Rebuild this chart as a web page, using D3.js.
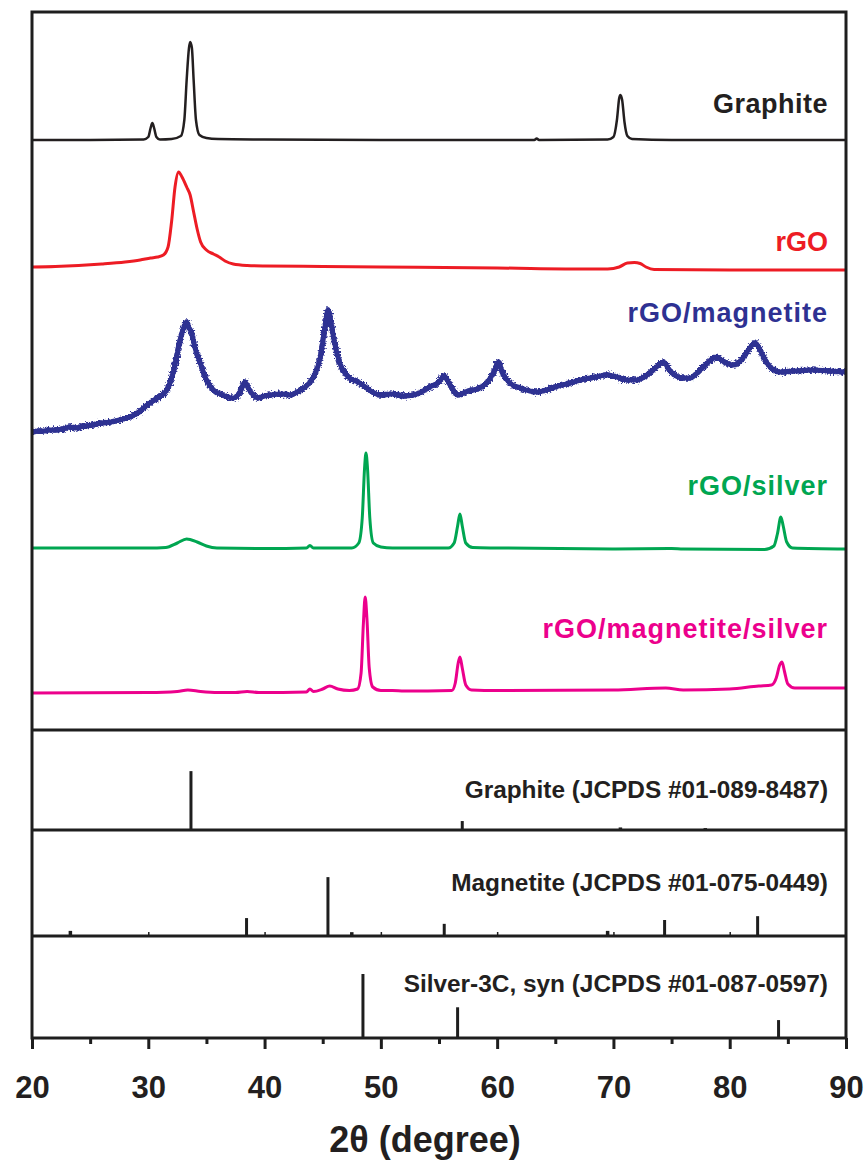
<!DOCTYPE html>
<html>
<head>
<meta charset="utf-8">
<script src="https://cdn.jsdelivr.net/npm/d3@7"></script>
<style>
  html, body { margin: 0; padding: 0; background: #fff; }
  svg { display: block; }
  text { font-family: "Liberation Sans", Arial, Helvetica, sans-serif; font-weight: bold; }
</style>
</head>
<body>
<svg id="chart" width="865" height="1165"></svg>
<script>
// ---- XRD patterns: [2θ (deg), intensity above each trace's own baseline, a.u.] ----
const graphite = [
  [20,0],[25,0],[29.6,0.5],[30.0,3],[30.2,12],[30.35,17],[30.5,12],[30.7,3],[31.0,0.5],
  [32.0,1],[32.8,4],[33.1,20],[33.3,60],[33.5,92],[33.6,98],[33.75,92],[33.9,60],[34.1,20],
  [34.4,5],[35,2],[36,1],[40,0.5],[50,0],[60,0],[63.2,0],[63.4,1.5],[63.6,0],[69.5,0.5],
  [70.0,3],[70.3,20],[70.5,42],[70.6,45],[70.75,40],[70.95,18],[71.2,4],[71.6,1],[75,0],[90,0]
];
const rGO = [
  [20,0],[22,0.5],[24,1.5],[26,3],[28,5],[29.3,7],[30.2,9],[30.8,10],[31.3,12],[31.7,20],
  [32.0,45],[32.3,80],[32.6,95],[32.9,90],[33.3,80],[33.6,72],[33.9,55],[34.2,38],[34.5,25],
  [35.0,17],[35.6,13],[36.1,10],[36.6,6],[37.3,3],[38.5,1.5],[40,1],[45,0.5],[50,0],[60,-1],
  [68,-2],[69.5,-2],[70.5,0],[71.2,4],[71.8,4.5],[72.3,3.5],[72.8,0],[73.5,-2.5],[80,-3],[90,-3]
];
const rGOMagnetite = [
  [20,0],[20.6,1],[21,1],[21.6,2],[22,2],[22.6,3],[23.3,5],[23.8,4],[24.5,6],[25.2,7],[26,9],
  [26.8,10],[27.5,12],[28.4,15],[29.2,20],[29.9,27],[30.8,34],[31.6,42],[32.2,62],[32.8,95],
  [33.1,106],[33.3,110],[33.5,104],[33.7,100],[34.0,85],[34.5,68],[35.0,52],[35.6,42],[36.4,37],
  [37.3,34],[37.9,40],[38.3,50],[38.7,42],[39.4,34],[40.0,36],[40.5,37],[41.5,38],[42.2,37],
  [42.8,40],[43.5,45],[44.2,55],[44.8,75],[45.2,105],[45.45,122],[45.7,110],[46.0,90],[46.5,68],
  [47.2,55],[48.2,49],[49.0,42],[49.9,37],[51,38],[52,36],[52.8,37],[53.5,40],[54.2,45],[55.0,50],
  [55.45,56],[55.9,48],[56.6,37],[57.5,41],[58.5,44],[59.3,52],[59.8,62],[60.1,70],[60.5,58],
  [61.1,49],[62.0,44],[63.4,40],[64.2,42],[65,45],[66.3,49],[67.5,53],[68.5,55],[69.4,57],
  [70.3,55],[71.2,52],[72,52],[73,58],[73.8,66],[74.3,70],[74.8,62],[75.4,56],[76,54],[76.6,54],
  [77.2,59],[77.8,66],[78.5,73],[78.9,75],[79.4,71],[80.3,67],[81,72],[81.6,82],[82.2,89],
  [82.7,80],[83.2,69],[84.3,60],[85.5,61],[87.1,62],[88.5,61],[90,60]
];
const rGOSilver = [
  [20,0],[30,0],[31.5,0.5],[32.5,5],[33.3,9],[34.2,6],[35.0,2],[35.9,0],[40,-0.5],[43.6,0],
  [43.9,2.5],[44.2,0],[47.5,0],[48.1,5],[48.4,30],[48.6,80],[48.72,95],[48.85,80],[49.05,30],
  [49.35,5],[50,1],[51,0],[55.8,0],[56.3,5],[56.6,22],[56.8,34],[57.0,22],[57.3,5],[57.9,0.5],
  [60,0],[70,-1],[75,-0.5],[76,-1],[83,-1.5],[83.8,2],[84.1,14],[84.4,31],[84.6,22],[84.9,6],
  [85.4,0],[90,-1]
];
const rGOMagnetiteSilver = [
  [20,0],[30,0.5],[32.5,1.5],[33.4,3],[34.5,1.5],[36,0.5],[37.5,0.5],[38.5,1.5],[39.5,0.5],
  [43.6,1],[43.9,4],[44.2,1.5],[45.0,4],[45.6,7],[46.3,4],[47.3,2.5],[48.0,4],[48.3,20],[48.5,70],
  [48.65,96],[48.8,75],[49.0,25],[49.3,6],[50,2.5],[51,2.5],[52,2],[56.1,2.5],[56.4,10],
  [56.65,30],[56.8,36],[57.0,25],[57.3,8],[57.8,3],[60,2.5],[70,3],[74.5,5],[76,3],[80,4],
  [82.5,7],[83.6,8],[84.0,15],[84.3,28],[84.5,31],[84.7,22],[85.0,9],[85.6,5],[90,5]
];

// vertical stacking offsets of the traces (same a.u. as intensity)
const traceNames   = ["Graphite", "rGO", "rGO/magnetite", "rGO/silver", "rGO/magnetite/silver"];
const traceData    = [graphite, rGO, rGOMagnetite, rGOSilver, rGOMagnetiteSilver];
const traceOffsets = [590, 463, 298, 182, 37];
const traceLabelAt = [617, 479, 408, 235, 92];   // label baseline height in a.u.
const traceColors  = ["#231f20", "#ed1c24", "#2e3192", "#00a651", "#ec008c"];

// ---- reference stick patterns: [2θ, relative intensity] ----
const graphiteRef  = [[33.67,92],[57.0,14],[70.6,4],[77.9,3]];
const magnetiteRef = [[23.3,8],[38.45,28],[45.45,92],[47.5,6],[55.45,19],[69.5,8],[74.4,25],[82.4,31]];
const silverRef    = [[48.46,100],[56.6,48],[84.2,28]];
const refNames = [
  "Graphite (JCPDS #01-089-8487)",
  "Magnetite (JCPDS #01-075-0449)",
  "Silver-3C, syn (JCPDS #01-087-0597)"
];
const refData = [graphiteRef, magnetiteRef, silverRef];

// ---- axis ----
const majorTicks = [20, 30, 40, 50, 60, 70, 80, 90];
const minorTicks = [25, 35, 45, 55, 65, 75, 85];
const xTitle = "2θ (degree)";

// ---- layout ----
const left = 32, right = 846;
const mainTop = 12, mainBottom = 730;
const panelBounds = [[730, 830], [830, 936], [936, 1038]];
const ink = "#1e1e1e";

const svg = d3.select("#chart");
const x = d3.scaleLinear().domain([20, 90]).range([left, right]);
const yMain = d3.scaleLinear().domain([0, mainBottom - mainTop]).range([mainBottom, mainTop]);

// rough-texture filter for the noisy diffractogram
const defs = svg.append("defs");
const f = defs.append("filter").attr("id", "rough")
  .attr("x", "-2%").attr("y", "-30%").attr("width", "104%").attr("height", "160%");
f.append("feTurbulence").attr("type", "fractalNoise").attr("baseFrequency", "0.6")
  .attr("numOctaves", 2).attr("seed", 7).attr("result", "noise");
f.append("feDisplacementMap").attr("in", "SourceGraphic").attr("in2", "noise")
  .attr("scale", 7).attr("xChannelSelector", "R").attr("yChannelSelector", "G");

defs.append("clipPath").attr("id", "plotClip").append("rect")
  .attr("x", left).attr("y", mainTop).attr("width", right - left).attr("height", mainBottom - mainTop);

// ---- stacked traces ----
const traces = svg.append("g").attr("clip-path", "url(#plotClip)");
traceData.forEach((data, i) => {
  const off = traceOffsets[i];
  const line = d3.line()
    .x(d => x(d[0]))
    .y(d => yMain(d[1] + off))
    .curve(d3.curveMonotoneX);
  if (i === 2) {
    // noisy pattern: solid core plus a jagged fringe
    traces.append("path")
      .datum(data)
      .attr("d", line)
      .attr("fill", "none")
      .attr("stroke", traceColors[i])
      .attr("stroke-width", 5)
      .attr("stroke-linejoin", "round");
    traces.append("path")
      .datum(data)
      .attr("d", line)
      .attr("fill", "none")
      .attr("stroke", traceColors[i])
      .attr("stroke-width", 5.5)
      .attr("stroke-linejoin", "round")
      .attr("filter", "url(#rough)");
  } else {
    traces.append("path")
      .datum(data)
      .attr("d", line)
      .attr("fill", "none")
      .attr("stroke", traceColors[i])
      .attr("stroke-width", i === 0 ? 2.5 : 3)
      .attr("stroke-linejoin", "round");
  }
});

svg.append("g").selectAll("text")
  .data(traceNames)
  .join("text")
  .attr("x", 828)
  .attr("y", (d, i) => yMain(traceLabelAt[i]))
  .attr("text-anchor", "end")
  .attr("font-size", 27)
  .attr("letter-spacing", (d, i) => i === 0 ? 0.5 : (i === 1 ? 0 : 1))
  .attr("fill", (d, i) => traceColors[i])
  .text(d => d);

// ---- reference stick panels ----
const refLabelBaseline = [798, 891, 992];
refData.forEach((sticks, i) => {
  const [top, bottom] = panelBounds[i];
  const yRef = d3.scaleLinear().domain([0, 100]).range([bottom, bottom - 64]);
  const g = svg.append("g");
  g.selectAll("line")
    .data(sticks)
    .join("line")
    .attr("x1", d => x(d[0])).attr("x2", d => x(d[0]))
    .attr("y1", yRef(0)).attr("y2", d => yRef(d[1]))
    .attr("stroke", ink)
    .attr("stroke-width", d => d[1] < 10 ? 3.5 : 3);
  g.append("text")
    .attr("x", 828)
    .attr("y", refLabelBaseline[i])
    .attr("text-anchor", "end")
    .attr("font-size", 24.4)
    .attr("fill", "#231f20")
    .text(refNames[i]);
});

// small inner ticks along the magnetite panel baseline
svg.append("g")
  .attr("transform", `translate(0,${panelBounds[1][1]})`)
  .call(d3.axisBottom(x).tickValues([30, 40, 50, 60, 70, 80]).tickSize(-4).tickFormat(""))
  .call(g => g.select(".domain").remove())
  .call(g => g.selectAll("line").attr("stroke", ink).attr("stroke-width", 1.5));

// ---- bottom axis ----
const axisG = svg.append("g").attr("transform", `translate(0,${mainBottom + 308})`);
axisG.append("g")
  .call(d3.axisBottom(x).tickValues(minorTicks).tickSize(6).tickFormat(""))
  .call(g => g.select(".domain").remove())
  .call(g => g.selectAll("line").attr("stroke", ink).attr("stroke-width", 3));
axisG.append("g")
  .call(d3.axisBottom(x).tickValues(majorTicks).tickSize(11).tickFormat(d3.format("d")))
  .call(g => g.select(".domain").remove())
  .call(g => g.selectAll("line").attr("stroke", ink).attr("stroke-width", 3))
  .call(g => g.selectAll("text")
    .attr("y", 60).attr("dy", null)
    .attr("font-size", 31)
    .attr("font-family", "Liberation Sans, Arial, sans-serif")
    .attr("font-weight", "bold")
    .attr("fill", "#231f20"));

svg.append("text")
  .attr("x", 425)
  .attr("y", 1152)
  .attr("text-anchor", "middle")
  .attr("font-size", 36)
  .attr("fill", "#231f20")
  .text(xTitle);

// ---- frame and panel dividers ----
const frame = svg.append("g").attr("fill", "none").attr("stroke", ink).attr("stroke-width", 3);
frame.append("rect")
  .attr("x", left).attr("y", mainTop)
  .attr("width", right - left).attr("height", panelBounds[2][1] - mainTop);
frame.selectAll("line.divider")
  .data(panelBounds.map(b => b[0]))
  .join("line")
  .attr("class", "divider")
  .attr("x1", left).attr("x2", right)
  .attr("y1", d => d).attr("y2", d => d);
</script>
</body>
</html>
